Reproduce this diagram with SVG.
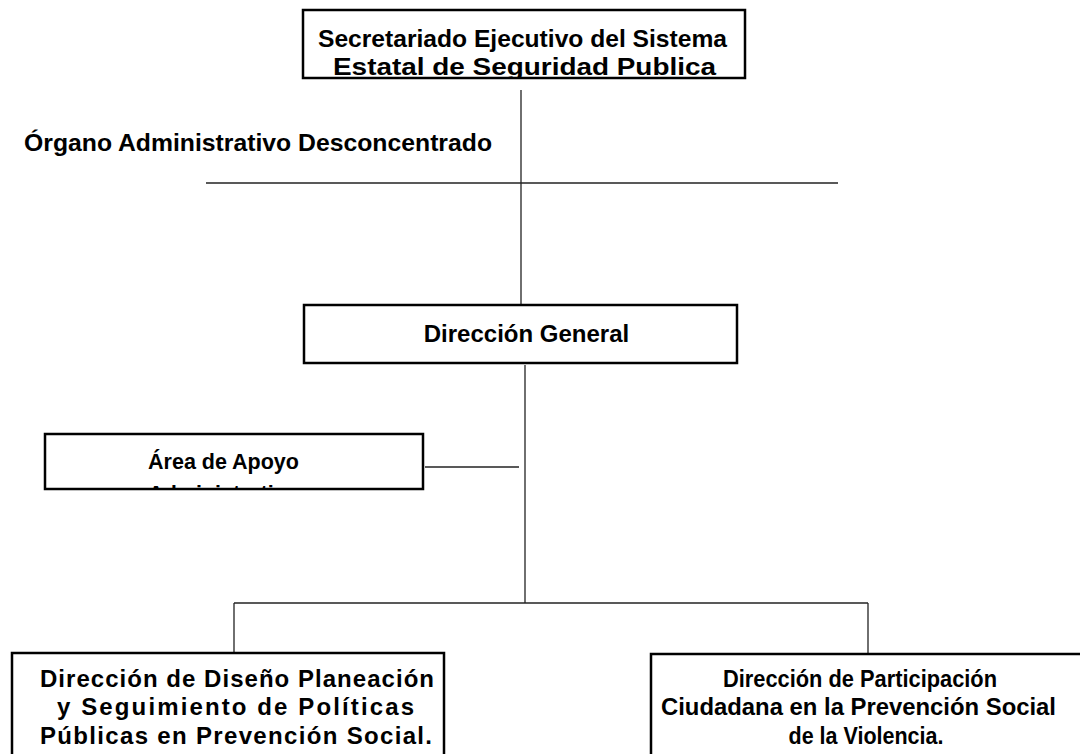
<svg xmlns="http://www.w3.org/2000/svg" width="1080" height="754" viewBox="0 0 1080 754">
<style>
.box{fill:#fff;stroke:#000;stroke-width:2.5}
.ln{stroke:#222;stroke-width:1.3;fill:none}
.t{font-family:"Liberation Sans",Arial,sans-serif;font-weight:bold;font-size:23px;fill:#000;text-anchor:middle}
.tl{font-family:"Liberation Sans",Arial,sans-serif;font-weight:bold;font-size:24.5px;fill:#000}
.big{font-size:24.5px}
.b24{font-size:24px}
.s21{font-size:21.5px}
</style>
<defs>
<clipPath id="cTop"><rect x="303" y="10" width="442" height="67"/></clipPath>
<clipPath id="cApoyo"><rect x="46" y="435" width="376" height="53"/></clipPath>
</defs>
<rect width="1080" height="754" fill="#fff"/>
<g id="connectors">
<line class="ln" x1="521" y1="90" x2="521" y2="304"/>
<line class="ln" x1="206" y1="183" x2="838" y2="183"/>
<line class="ln" x1="525" y1="365" x2="525" y2="603"/>
<line class="ln" x1="425" y1="467" x2="519" y2="467"/>
<line class="ln" x1="234" y1="603" x2="868" y2="603"/>
<line class="ln" x1="234" y1="603" x2="234" y2="653"/>
<line class="ln" x1="868" y1="603" x2="868" y2="654"/>
</g>
<g id="secretariado">
<rect class="box" x="303" y="10" width="442" height="68"/>
<g clip-path="url(#cTop)">
<text class="t big" x="522.5" y="47" textLength="409" lengthAdjust="spacingAndGlyphs">Secretariado Ejecutivo del Sistema</text>
<text class="t big" x="524.5" y="75" textLength="383" lengthAdjust="spacingAndGlyphs">Estatal de Seguridad Publica</text>
</g>
</g>
<g id="organo">
<text class="tl" x="24" y="151" textLength="468" lengthAdjust="spacingAndGlyphs">Órgano Administrativo Desconcentrado</text>
</g>
<g id="direccion-general">
<rect class="box" x="304" y="305" width="433" height="58"/>
<text class="t b24" x="526.5" y="342">Dirección General</text>
</g>
<g id="area-apoyo">
<rect class="box" x="45" y="434" width="378" height="55"/>
<g clip-path="url(#cApoyo)">
<text class="t s21" x="223.5" y="469">Área de Apoyo</text>
<text class="t s21" x="223.5" y="501">Administrativo</text>
</g>
</g>
<g id="direccion-diseno">
<rect class="box" x="12" y="653" width="432" height="110"/>
<text class="t b24" x="237" y="687" textLength="394" lengthAdjust="spacing">Dirección de Diseño Planeación</text>
<text class="t b24" x="235.5" y="715" textLength="357" lengthAdjust="spacing">y Seguimiento de Políticas</text>
<text class="t b24" x="236" y="744" textLength="392" lengthAdjust="spacing">Públicas en Prevención Social.</text>
</g>
<g id="direccion-participacion">
<rect class="box" x="651" y="654" width="440" height="110"/>
<text class="t" x="860" y="687" textLength="274" lengthAdjust="spacingAndGlyphs">Dirección de Participación</text>
<text class="t" x="858.5" y="715" textLength="395" lengthAdjust="spacingAndGlyphs">Ciudadana en la Prevención Social</text>
<text class="t" x="866" y="744" textLength="155" lengthAdjust="spacingAndGlyphs">de la Violencia.</text>
</g>
</svg>
